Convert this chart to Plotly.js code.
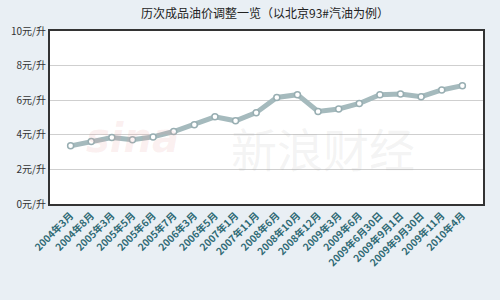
<!DOCTYPE html>
<html>
<head>
<meta charset="utf-8">
<script src="https://cdn.plot.ly/plotly-3.0.1.min.js"></script>
<style>html,body{margin:0;padding:0;background:#e9eff4;}#chart{width:500px;height:300px;}</style>
</head>
<body>
<div id="chart"></div>
<script>
const categories = ["2004年3月","2004年8月","2005年3月","2005年5月","2005年6月","2005年7月","2006年3月","2006年5月","2007年1月","2007年11月","2008年6月","2008年10月","2008年12月","2009年3月","2009年6月","2009年6月30日","2009年9月1日","2009年9月30日","2009年11月","2010年4月"];
const prices = [3.36,3.61,3.84,3.71,3.88,4.19,4.58,5.04,4.81,5.28,6.16,6.32,5.35,5.49,5.81,6.32,6.36,6.20,6.59,6.84];
const yTickVals = [0,2,4,6,8,10];
const yTickText = ["0元/升","2元/升","4元/升","6元/升","8元/升","10元/升"];
const titleText = "历次成品油价调整一览（以北京93#汽油为例）";

const trace = {
  x: categories, y: prices, type: "scatter", mode: "lines+markers",
  line: {color: "#a5babd", width: 5},
  marker: {color: "#ffffff", size: 6, line: {color: "#98aeb2", width: 1.5}},
  hoverinfo: "skip"
};
const layout = {
  width: 500, height: 300,
  margin: {l: 50, r: 17, t: 31, b: 96},
  paper_bgcolor: "#e9eff4", plot_bgcolor: "#ffffff",
  showlegend: false,
  title: {text: titleText, x: 0.53, xanchor: "center", y: 0.955, yanchor: "middle",
          font: {family: "Noto Sans CJK SC", size: 12, color: "#222"}},
  xaxis: {type: "category", tickangle: -45, showgrid: false, zeroline: false,
          range: [-1, 20],
          tickfont: {family: "Noto Sans CJK SC", size: 10, color: "#2f6a74", weight: "bold"},
          showline: true, linecolor: "#333", linewidth: 2, mirror: true, ticks: ""},
  yaxis: {range: [0, 10], tickvals: yTickVals, ticktext: yTickText,
          showgrid: true, gridcolor: "#cfcfcf", gridwidth: 1, zeroline: false,
          tickfont: {family: "Noto Sans CJK SC", size: 10, color: "#333"},
          showline: true, linecolor: "#333", linewidth: 2, mirror: true, ticks: ""},
  annotations: [
    {text: "<i><b>sina</b></i>", xref: "paper", yref: "paper", x: 0.19, y: 0.38,
     xanchor: "center", yanchor: "middle",
     showarrow: false, font: {family: "DejaVu Sans", size: 40, color: "rgba(230,160,160,0.16)"}},
    {text: "新浪财经", xref: "paper", yref: "paper", x: 0.63, y: 0.33,
     xanchor: "center", yanchor: "middle",
     showarrow: false, font: {family: "Noto Sans CJK SC", size: 46, color: "rgba(170,170,170,0.14)"}}
  ]
};
Plotly.newPlot("chart", [trace], layout, {displayModeBar: false, staticPlot: true});
</script>
</body>
</html>
